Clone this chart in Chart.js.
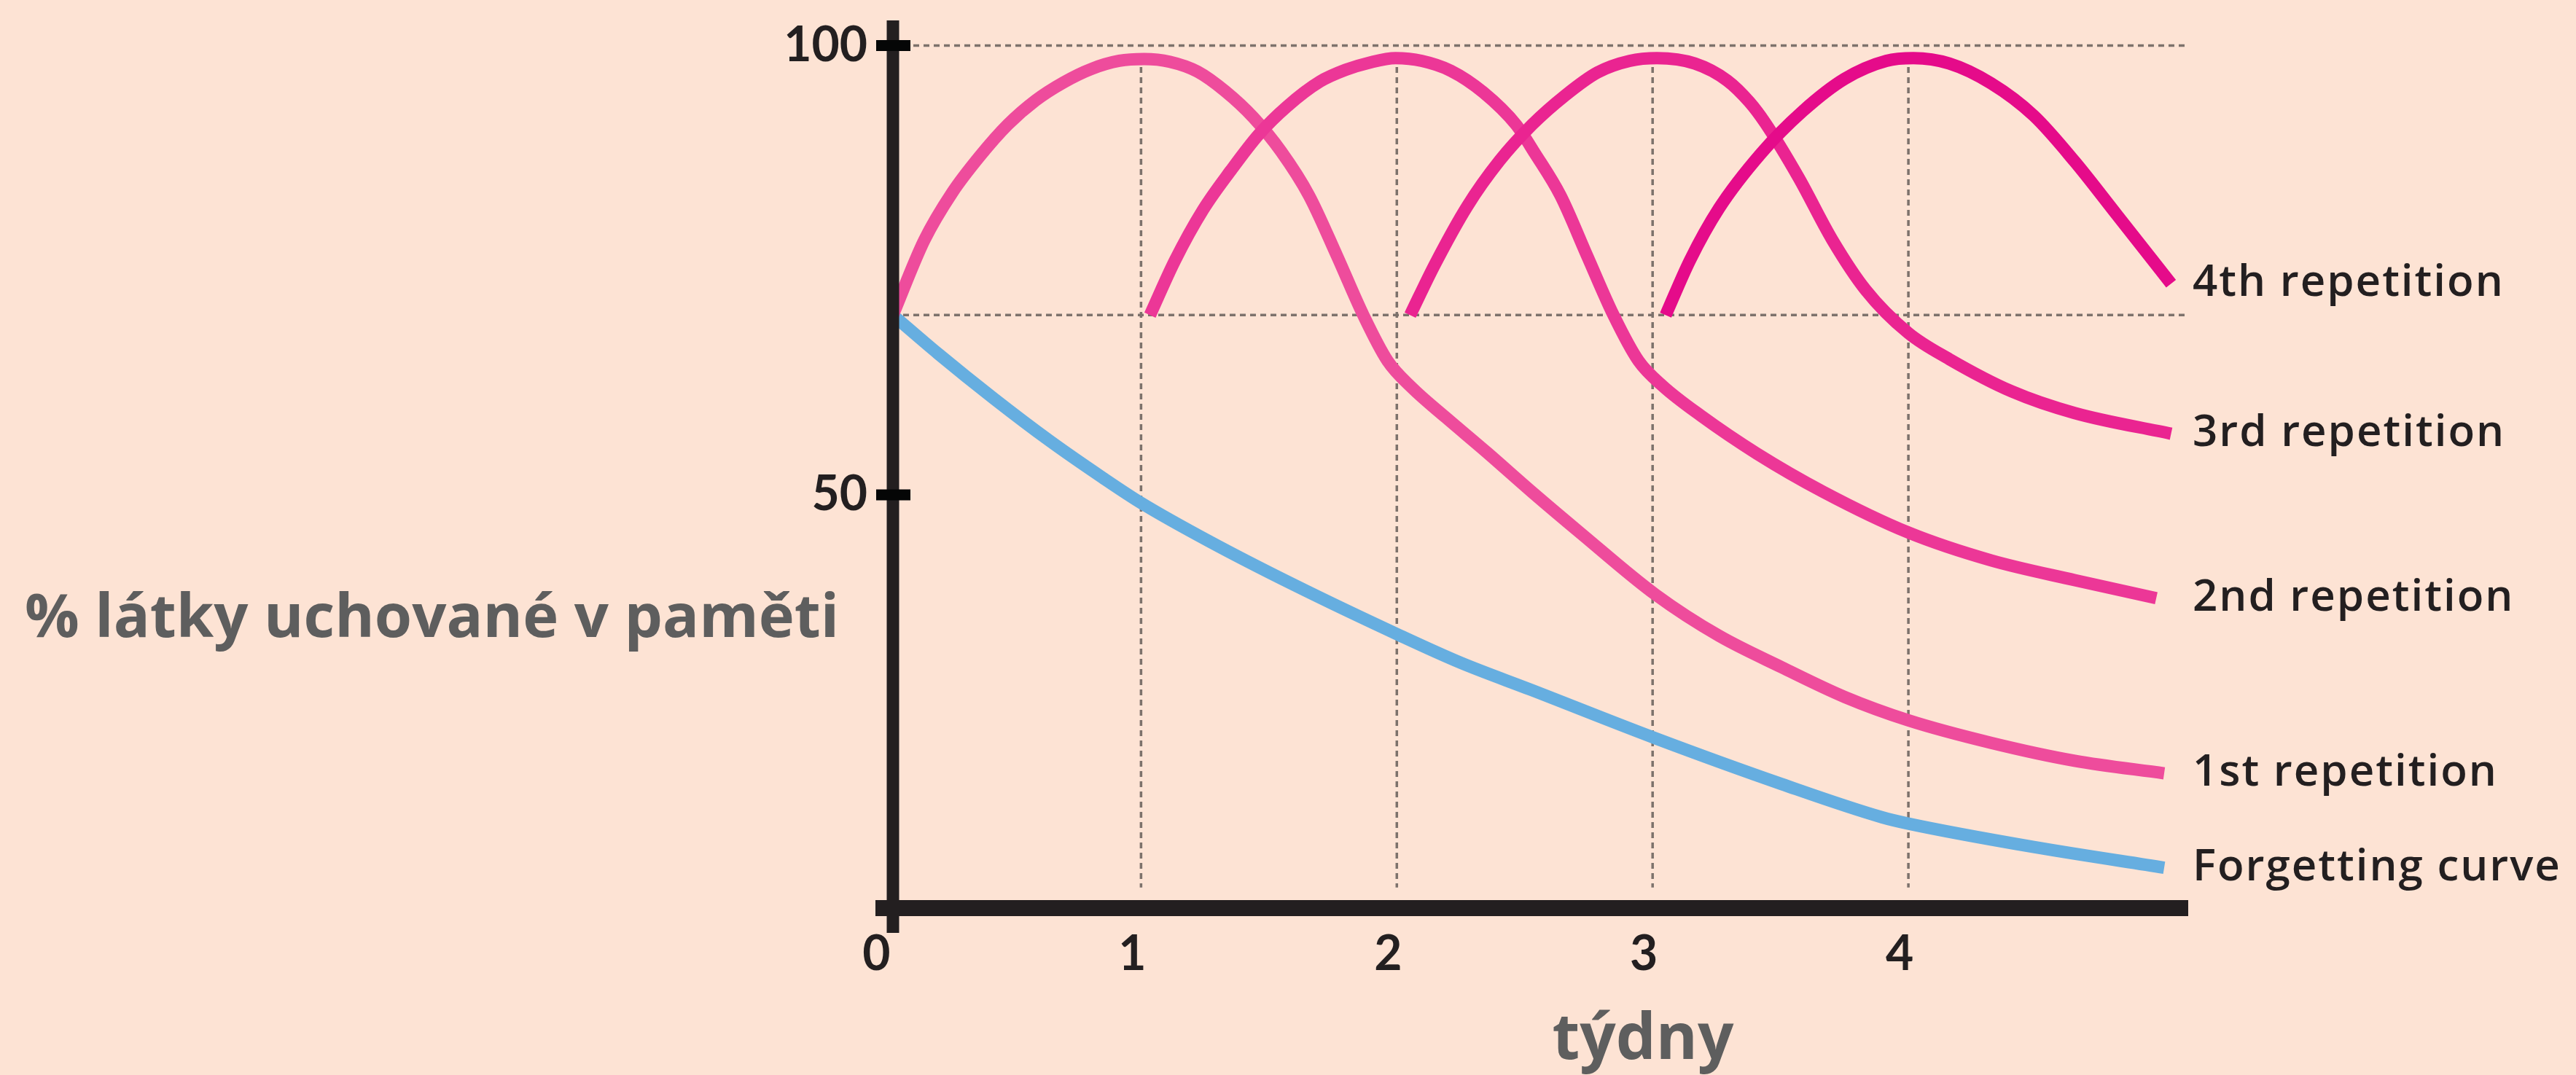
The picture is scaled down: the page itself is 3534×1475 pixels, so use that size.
<!DOCTYPE html>
<html><head><meta charset="utf-8">
<script src="https://cdn.jsdelivr.net/npm/chart.js@4.4.1/dist/chart.umd.min.js"></script>
<style>html,body{margin:0;padding:0;background:#fde3d4;overflow:hidden}#wrap{width:3534px;height:1475px;position:relative}</style>
</head><body><div id="wrap"><canvas id="c" width="3534" height="1475"></canvas></div>
<script>
// ---- data ----
const xTickValues = [0, 1, 2, 3, 4];
const yTickValues = [50, 100];
const refLines = [70, 100];
const seriesNames = ['Forgetting curve', '1st repetition', '2nd repetition', '3rd repetition', '4th repetition'];
const yAxisTitle = '% látky uchované v paměti';
const xAxisTitle = 'týdny';

const forgetX = [0.03, 0.207, 0.425, 0.643, 0.85, 1.0, 1.268, 1.596, 2.015, 2.25, 2.524, 3.011, 3.505, 3.898, 4.0, 4.49, 5.0];
const forgetY = [70, 65.7, 60.7, 56.0, 51.9, 49.1, 44.8, 40.0, 34.3, 31.3, 28.3, 22.9, 17.8, 14.1, 13.4, 10.8, 8.5];

const rep1X = [0.03, 0.152, 0.261, 0.370, 0.479, 0.588, 0.697, 0.806, 0.915, 1.012, 1.112, 1.221, 1.33, 1.439, 1.548, 1.657, 1.766, 1.869, 1.964, 2.06, 2.192, 2.353, 2.529, 2.72, 3.011, 3.26, 3.505, 3.751, 4.0, 4.323, 4.65, 5.0];
const rep1Y = [70, 78.3, 83.6, 87.7, 91.2, 93.9, 95.9, 97.4, 98.3, 98.5, 98.2, 97.1, 94.9, 92.0, 88.2, 83.3, 76.6, 70.0, 64.9, 61.9, 58.6, 54.7, 50.3, 45.7, 38.9, 34.3, 30.8, 27.5, 24.9, 22.4, 20.4, 19.0];

const rep2X = [1.035, 1.133, 1.242, 1.351, 1.46, 1.57, 1.70, 1.80, 1.893, 1.995, 2.097, 2.211, 2.338, 2.466, 2.54, 2.64, 2.744, 2.847, 2.945, 3.04, 3.189, 3.407, 3.669, 4.0, 4.323, 4.65, 4.969];
const rep2Y = [70, 76.1, 81.7, 86.1, 90.1, 93.2, 96.0, 97.3, 98.1, 98.6, 98.3, 97.2, 94.8, 91.2, 88.0, 83.3, 76.6, 70.0, 64.9, 62.1, 58.8, 54.6, 50.3, 45.8, 42.7, 40.5, 38.5];

const rep3X = [2.052, 2.148, 2.275, 2.402, 2.529, 2.656, 2.784, 2.911, 3.017, 3.165, 3.292, 3.379, 3.44, 3.571, 3.702, 3.833, 4.0, 4.16, 4.405, 4.65, 5.027];
const rep3Y = [70, 75.6, 82.1, 87.2, 91.2, 94.4, 97.0, 98.3, 98.6, 98.0, 96.1, 93.7, 91.4, 85.3, 78.4, 72.8, 68.0, 65.1, 61.5, 59.1, 56.8];

const rep4X = [3.051, 3.146, 3.26, 3.424, 3.587, 3.751, 3.914, 4.02, 4.16, 4.323, 4.49, 4.65, 4.814, 5.027];
const rep4Y = [70, 76.1, 81.9, 88.0, 92.7, 96.3, 98.3, 98.6, 98.0, 95.8, 92.2, 87.1, 81.2, 73.5];

// ---- build ----
const pts = (xs, ys) => xs.map((x, i) => ({x: x, y: ys[i]}));
const colors = ['#66aee0', '#ee4c9c', '#ec3797', '#ea2491', '#e50b8a'];
const allX = [forgetX, rep1X, rep2X, rep3X, rep4X];
const allY = [forgetY, rep1Y, rep2Y, rep3Y, rep4Y];
const datasets = [4, 3, 2, 1, 0].map(i => ({
  label: seriesNames[i],
  data: pts(allX[i], allY[i]),
  borderColor: colors[i],
  borderWidth: 17,
  pointRadius: 0,
  fill: false,
  cubicInterpolationMode: 'monotone',
  borderCapStyle: 'butt',
  borderJoinStyle: 'round'
}));

const tickFont = {family: 'Lato', weight: 'bold', size: 66};

const deco = {
  id: 'deco',
  beforeDatasetsDraw(chart) {
    const {ctx, chartArea: a, scales: {x, y}} = chart;
    ctx.save();
    ctx.strokeStyle = '#7d726c';
    ctx.lineWidth = 3.5;
    ctx.setLineDash([8, 6]);
    refLines.forEach(v => {
      const py = y.getPixelForValue(v);
      ctx.beginPath(); ctx.moveTo(a.left, py); ctx.lineTo(a.right, py); ctx.stroke();
    });
    xTickValues.filter(v => v > 0).forEach(v => {
      const px = x.getPixelForValue(v);
      ctx.beginPath(); ctx.moveTo(px, y.getPixelForValue(97.6)); ctx.lineTo(px, y.getPixelForValue(6.3)); ctx.stroke();
    });
    ctx.restore();
  },
  afterDatasetsDraw(chart) {
    const {ctx, chartArea: a, scales: {y}} = chart;
    ctx.save();
    ctx.lineCap = 'butt';
    ctx.strokeStyle = '#231f20';
    ctx.lineWidth = 17;
    ctx.beginPath(); ctx.moveTo(a.left, a.top); ctx.lineTo(a.left, a.bottom + 34); ctx.stroke();
    ctx.lineWidth = 22;
    ctx.beginPath(); ctx.moveTo(a.left - 24, a.bottom); ctx.lineTo(a.right, a.bottom); ctx.stroke();
    ctx.strokeStyle = '#050606';
    ctx.lineWidth = 15;
    yTickValues.forEach(v => {
      const py = y.getPixelForValue(v);
      ctx.beginPath(); ctx.moveTo(a.left - 23, py); ctx.lineTo(a.left + 24, py); ctx.stroke();
    });
    ctx.fillStyle = '#231f20';
    ctx.font = '600 60px "Open Sans"';
    ctx.letterSpacing = '2px';
    ctx.textAlign = 'left';
    ctx.textBaseline = 'middle';
    chart.data.datasets.forEach((ds, i) => {
      const meta = chart.getDatasetMeta(i);
      const last = meta.data[meta.data.length - 1];
      ctx.fillText(ds.label, a.right + 6, last.y);
    });
    ctx.letterSpacing = '0px';
    ctx.fillStyle = '#5e5e5e';
    ctx.font = 'bold 83px "Open Sans"';
    ctx.textAlign = 'left';
    ctx.fillText(yAxisTitle, 34, 850);
    ctx.textAlign = 'center';
    ctx.font = 'bold 87px "Open Sans"';
    ctx.fillText(xAxisTitle, 2254, 1428);
    ctx.restore();
  }
};

new Chart(document.getElementById('c'), {
  type: 'line',
  data: {datasets: datasets},
  plugins: [deco],
  options: {
    responsive: false,
    animation: false,
    devicePixelRatio: 1,
    layout: {padding: {top: 28, right: 532, left: 0, bottom: 0}},
    plugins: {legend: {display: false}, tooltip: {enabled: false}},
    scales: {
      x: {
        type: 'linear', min: 0.03, max: 5.094,
        afterFit(s) { s.height = 229; s.paddingLeft = 0; s.paddingRight = 0; },
        afterBuildTicks(s) { s.ticks = xTickValues.map(v => ({value: v})); },
        grid: {display: false, drawTicks: false, tickLength: 0},
        border: {display: false},
        ticks: {font: tickFont, color: '#231f20', padding: 24, autoSkip: false, maxRotation: 0,
                labelOffset: -12, callback: v => String(v)}
      },
      y: {
        type: 'linear', min: 4, max: 102.8,
        afterFit(s) { s.width = 1225; s.paddingTop = 0; s.paddingBottom = 0; },
        afterBuildTicks(s) { s.ticks = yTickValues.map(v => ({value: v})); },
        grid: {display: false, drawTicks: false, tickLength: 0},
        border: {display: false},
        ticks: {font: tickFont, color: '#231f20', padding: 35, autoSkip: false, callback: v => String(v)}
      }
    }
  }
});
</script>
</body></html>
